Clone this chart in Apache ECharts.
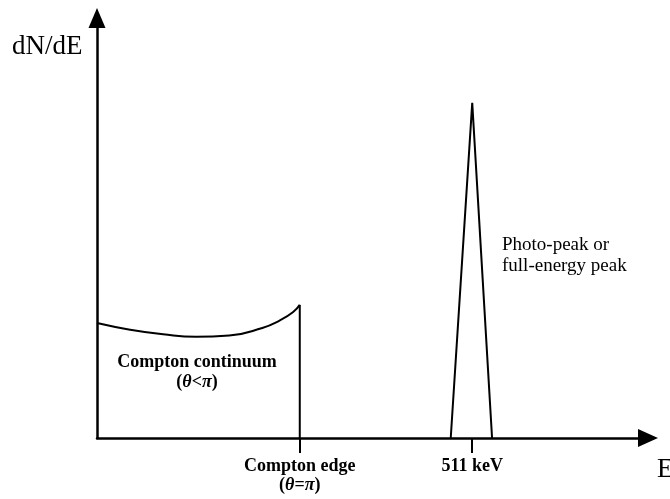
<!DOCTYPE html>
<html>
<head>
<meta charset="utf-8">
<script src="https://cdn.jsdelivr.net/npm/echarts@6/dist/echarts.min.js"></script>
<style>
  html, body { margin: 0; padding: 0; background: #fff; }
  #chart { width: 670px; height: 499px; }
</style>
</head>
<body>
<div id="chart"></div>
<script>
// Schematic spectrum, arbitrary units (x and y both 0-100)
const continuumX = [0, 6, 12, 18, 24, 30, 33.2, 35.6, 36.8];
const continuumY = [27.4, 25.8, 24.7, 24.1, 24.4, 26.2, 28.0, 30.0, 31.7];
const edgeX = [36.8, 36.8];
const edgeY = [31.7, 0];
const peakX = [64.2, 68.1, 71.7];
const peakY = [0, 79.8, 0];
const tickValues = [36.8, 68.1];
const tickLabels = [
    '{b|Compton edge}\n{b|(}{bi|θ}{b|=}{bi|π}{b|)}',
    '{b|511 keV}'
];

const serif = '"Liberation Serif", "DejaVu Serif", serif';
const pairs = (xs, ys) => xs.map((x, i) => [x, ys[i]]);

const lineSeries = (data, smooth) => ({
    type: 'line',
    data: data,
    smooth: smooth,
    showSymbol: false,
    silent: true,
    lineStyle: { color: '#000', width: 2 },
    animation: false
});

const chart = echarts.init(document.getElementById('chart'), null, { renderer: 'canvas' });

const option = {
    backgroundColor: '#fff',
    animation: false,
    grid: { left: 97, right: 22, top: 18, bottom: 61 },
    xAxis: {
        type: 'value',
        min: 0,
        max: 100,
        axisLine: {
            show: true,
            symbol: ['none', 'triangle'],
            symbolSize: [18, 20],
            lineStyle: { color: '#000', width: 2.5 }
        },
        axisTick: {
            show: true,
            inside: false,
            length: 15,
            customValues: tickValues,
            lineStyle: { color: '#000', width: 2 }
        },
        axisLabel: {
            show: true,
            customValues: tickValues,
            margin: 19,
            color: '#000',
            lineHeight: 19,
            formatter: (val) => {
                const i = tickValues.findIndex(v => Math.abs(v - val) < 1e-6);
                return i >= 0 ? tickLabels[i] : '';
            },
            rich: {
                b: { fontFamily: serif, fontSize: 18, fontWeight: 'bold', color: '#000', lineHeight: 19 },
                bi: { fontFamily: serif, fontSize: 18, fontWeight: 'bold', fontStyle: 'italic', color: '#000', lineHeight: 19 }
            }
        },
        splitLine: { show: false }
    },
    yAxis: {
        type: 'value',
        min: 0,
        max: 100,
        axisLine: {
            show: true,
            symbol: ['none', 'triangle'],
            symbolSize: [17, 20],
            lineStyle: { color: '#000', width: 2.5 }
        },
        axisTick: { show: false },
        axisLabel: { show: false },
        splitLine: { show: false }
    },
    series: [
        lineSeries(pairs(continuumX, continuumY), true),
        lineSeries(pairs(edgeX, edgeY), false),
        lineSeries(pairs(peakX, peakY), false)
    ],
    graphic: [
        {
            type: 'text', x: 12, y: 47,
            style: { text: 'dN/dE', font: '27px ' + serif, fill: '#000', textVerticalAlign: 'middle' }
        },
        {
            type: 'text', x: 657, y: 470,
            style: { text: 'E', font: '27px ' + serif, fill: '#000', textVerticalAlign: 'middle' }
        },
        {
            type: 'text', x: 197, y: 372,
            style: {
                text: '{b|Compton continuum}\n{b|(}{bi|θ}{b|<}{bi|π}{b|)}',
                align: 'center',
                verticalAlign: 'middle',
                rich: {
                    b: { fontFamily: serif, fontSize: 18, fontWeight: 'bold', fill: '#000', lineHeight: 20 },
                    bi: { fontFamily: serif, fontSize: 18, fontWeight: 'bold', fontStyle: 'italic', fill: '#000', lineHeight: 20 }
                }
            }
        },
        {
            type: 'text', x: 502, y: 256,
            style: {
                text: 'Photo-peak or\nfull-energy peak',
                font: '19px ' + serif,
                fill: '#000',
                lineHeight: 21,
                verticalAlign: 'middle'
            }
        }
    ]
};

chart.setOption(option);
window.addEventListener('resize', () => chart.resize());
</script>
</body>
</html>
